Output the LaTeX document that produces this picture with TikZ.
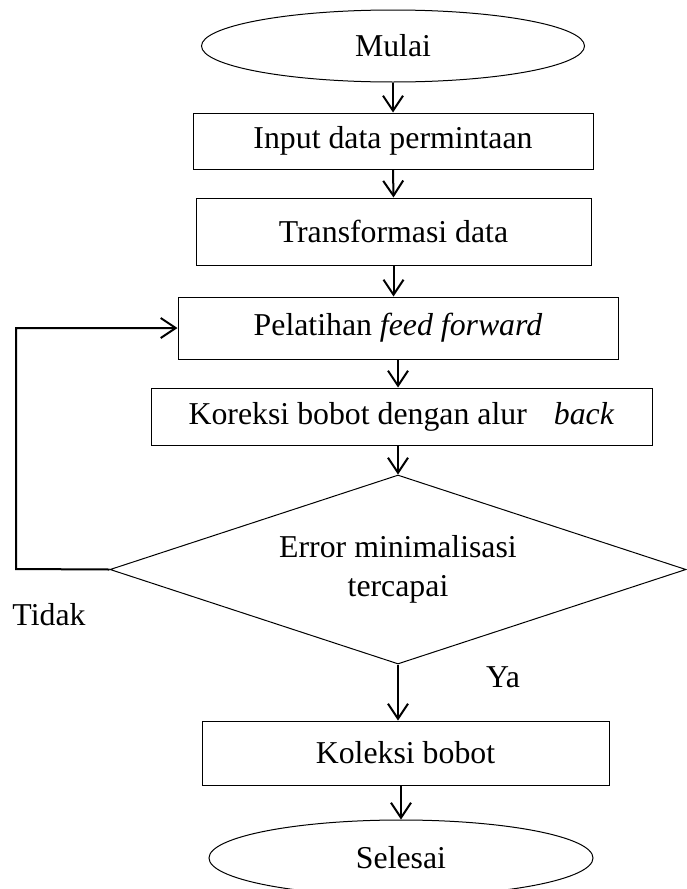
\documentclass[tikz,border=0pt]{standalone}
\usepackage{fontspec}
\setmainfont{Liberation Serif}
\usetikzlibrary{shapes,arrows.meta,positioning,calc}

\begin{document}
\begin{tikzpicture}[x=0.5pt, y=-0.5pt]
  \useasboundingbox (0,0) rectangle (686,889);
  \tikzstyle{terminal}=[ellipse, draw, line width=0.5pt, inner sep=0pt, font=\fontsize{15.9}{19}\selectfont]
  \tikzstyle{proses}=[rectangle, draw, line width=0.5pt, inner sep=0pt, font=\fontsize{15.9}{19}\selectfont]
  \tikzstyle{keputusan}=[diamond, draw, line width=0.5pt, inner sep=0pt, shape aspect=3.05, align=center, font=\fontsize{15.9}{19.5}\selectfont]
  \tikzstyle{panah}=[-{Straight Barb[length=7.5pt, width=10pt]}, line width=1pt]

  % Alur utama
  \node[terminal, minimum width=191.5pt, minimum height=36pt] (mulai) at (393,46) {Mulai};
  \node[proses, minimum width=200pt, minimum height=28pt] (input) at (393,141) {Input data permintaan};
  \node[proses, minimum width=197.5pt, minimum height=33.5pt] (trans) at (393.5,231.5) {Transformasi data};
  \node[proses, minimum width=220pt, minimum height=31pt] (latih) at (398,328) {Pelatihan \textit{feed forward}};
  \node[proses, minimum width=250.5pt, minimum height=28.5pt] (koreksi) at (401.5,416.5) {Koreksi bobot dengan alur \hspace{0.6em}\textit{back}};
  \node[keputusan, minimum width=288pt, minimum height=94.5pt] (cek) at (398,569.5) {Error minimalisasi\\tercapai};
  \node[proses, minimum width=203.5pt, minimum height=32pt] (koleksi) at (405.5,753) {Koleksi bobot};
  \node[terminal, minimum width=192pt, minimum height=38pt] (selesai) at (401,858) {Selesai};

  \draw[panah] (mulai.south -| input.north) -- (input.north);
  \draw[panah] (input.south) -- (trans.north);
  \draw[panah] (trans.south) -- (trans.south |- latih.north);
  \draw[panah] (latih.south) -- (latih.south |- koreksi.north);
  \draw[panah] (cek.north |- koreksi.south) -- (cek.north);
  \draw[panah] (cek.south) -- (cek.south |- koleksi.north);
  \draw[panah] (koleksi.south -| selesai.north) -- (selesai.north);

  % Kembali jika tidak
  \coordinate (balik) at (16,569);
  \draw[panah] (cek.west) -- (balik) |- (latih.west);

  \node[font=\fontsize{15.9}{19}\selectfont] (tidak) at (49,615) {Tidak};
  \node[font=\fontsize{15.9}{19}\selectfont] (ya) at (503,677) {Ya};
\end{tikzpicture}
\end{document}
